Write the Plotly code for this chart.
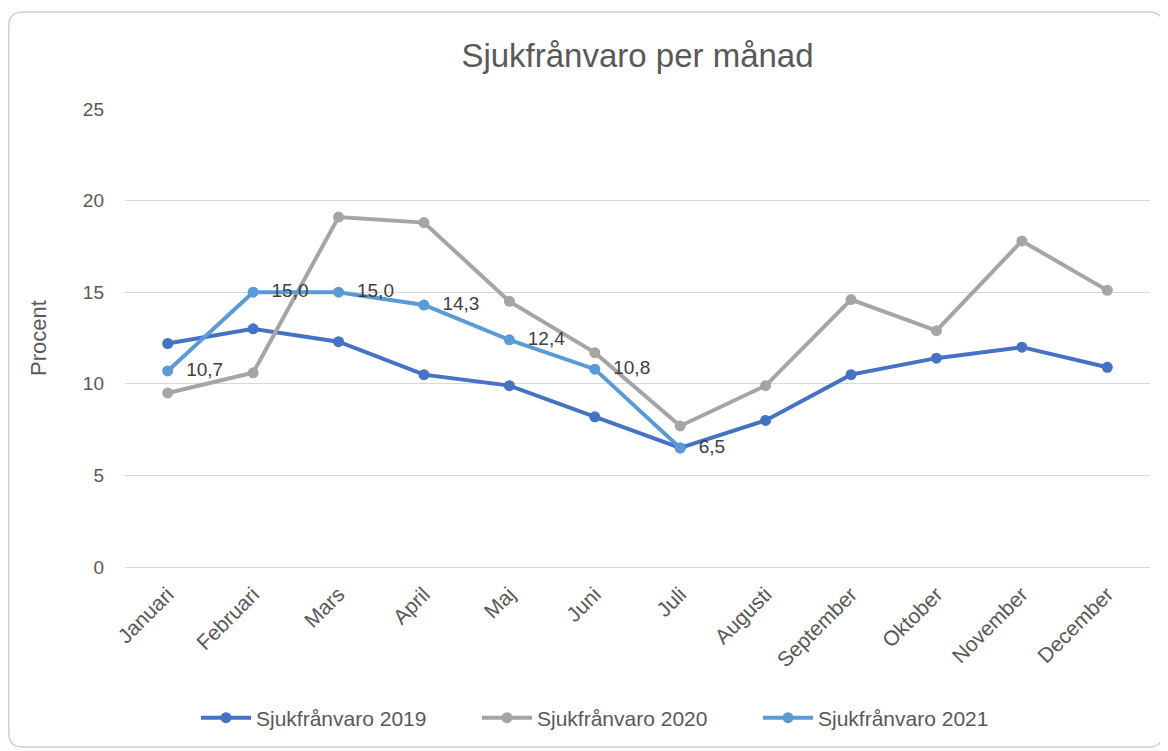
import plotly.graph_objects as go

months = ["Januari", "Februari", "Mars", "April", "Maj", "Juni", "Juli",
          "Augusti", "September", "Oktober", "November", "December"]
s2019 = [12.2, 13.0, 12.3, 10.5, 9.9, 8.2, 6.5, 8.0, 10.5, 11.4, 12.0, 10.9]
s2020 = [9.5, 10.6, 19.1, 18.8, 14.5, 11.7, 7.7, 9.9, 14.6, 12.9, 17.8, 15.1]
s2021 = [10.7, 15.0, 15.0, 14.3, 12.4, 10.8, 6.5]
yticks = [0, 5, 10, 15, 20, 25]

# page has an 8px body margin, so the figure is 8px smaller than the window
W, H = 1160, 743
ML, MR, MT, MB = 117, 18, 101, 184
FONT = "Liberation Sans, Arial, sans-serif"
TXT = "#595959"

fig = go.Figure()
fig.add_trace(go.Scatter(x=months, y=s2019, name="Sjukfrånvaro 2019", mode="lines+markers",
                         line=dict(color="#4472C4", width=4), marker=dict(size=11, color="#4472C4")))
fig.add_trace(go.Scatter(x=months, y=s2020, name="Sjukfrånvaro 2020", mode="lines+markers",
                         line=dict(color="#A5A5A5", width=4), marker=dict(size=11, color="#A5A5A5")))
fig.add_trace(go.Scatter(x=months[:len(s2021)], y=s2021, name="Sjukfrånvaro 2021",
                         mode="lines+markers+text",
                         text=["  " + f"{v:.1f}".replace(".", ",") for v in s2021],
                         textposition="middle right",
                         textfont=dict(size=19, color="#404040", family=FONT),
                         line=dict(color="#5B9BD5", width=4), marker=dict(size=11, color="#5B9BD5")))

# rounded frame in pixel coords -> paper
pw, ph = W - ML - MR, H - MT - MB
def px(x): return (x - ML) / pw
def py(y): return (H - MB - y) / ph
x0, y0, x1, y1, r = 0.8, 4, 1155, 739, 14
path = (f"M {px(x0+r)},{py(y0)} L {px(x1-r)},{py(y0)} Q {px(x1)},{py(y0)} {px(x1)},{py(y0+r)} "
        f"L {px(x1)},{py(y1-r)} Q {px(x1)},{py(y1)} {px(x1-r)},{py(y1)} "
        f"L {px(x0+r)},{py(y1)} Q {px(x0)},{py(y1)} {px(x0)},{py(y1-r)} "
        f"L {px(x0)},{py(y0+r)} Q {px(x0)},{py(y0)} {px(x0+r)},{py(y0)} Z")

fig.update_layout(
    width=W, height=H,
    margin=dict(l=ML, r=MR, t=MT, b=MB),
    paper_bgcolor="white", plot_bgcolor="white",
    font=dict(family=FONT, color=TXT, size=19),
    title=dict(text="Sjukfrånvaro per månad", x=0.5, xref="paper", y=1 - 47 / H, yanchor="middle",
               font=dict(size=33, color=TXT, family=FONT)),
    shapes=[dict(type="path", path=path, xref="paper", yref="paper",
                 line=dict(color="#D0D0D0", width=1.5), layer="below")],
    legend=dict(orientation="h", x=0.5 - 20 / pw, xanchor="center", y=-(710 - (H - MB)) / ph,
                yanchor="middle",
                font=dict(size=21, color=TXT, family=FONT), itemwidth=50, entrywidth=216,
                traceorder="normal"),
    xaxis=dict(type="category", tickangle=-45, showgrid=False, showline=False, ticks="",
               ticklabelstandoff=10,
               tickfont=dict(size=21, color=TXT, family=FONT), range=[-0.5, 11.5]),
    yaxis=dict(range=[0, 25], tickvals=yticks, showgrid=True, gridcolor="#D9D9D9", gridwidth=1,
               zeroline=True, zerolinecolor="#D9D9D9", zerolinewidth=1, showline=False, ticks="",
               ticklabelstandoff=20,
               tickfont=dict(size=19, color=TXT, family=FONT),
               title=dict(text="Procent", standoff=30, font=dict(size=22, color=TXT, family=FONT))),
)

fig.write_html("out.html")
